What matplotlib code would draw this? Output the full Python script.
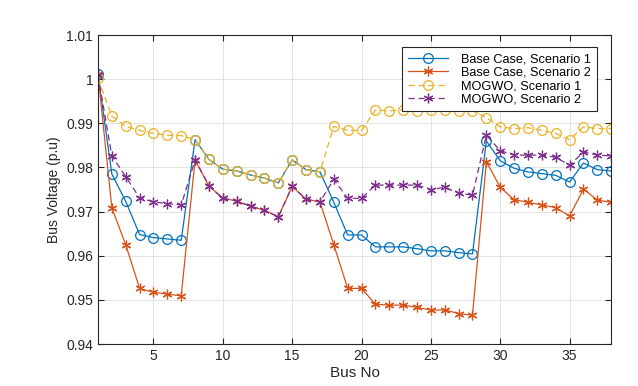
import matplotlib
matplotlib.use('Agg')
import matplotlib.pyplot as plt

plt.rcParams['font.family'] = ['Liberation Sans', 'DejaVu Sans']

bus = list(range(1, 39))

base_s1 = [1.0011, 0.9785, 0.9723, 0.9648, 0.9641, 0.9638, 0.9635, 0.9863, 0.9818, 0.9796,
           0.9792, 0.9783, 0.9776, 0.9765, 0.9817, 0.9795, 0.9790, 0.9721, 0.9647, 0.9647,
           0.9620, 0.9620, 0.9620, 0.9616, 0.9611, 0.9611, 0.9607, 0.9604, 0.9860, 0.9815,
           0.9798, 0.9790, 0.9786, 0.9782, 0.9767, 0.9810, 0.9795, 0.9792]

base_s2 = [1.0011, 0.9708, 0.9625, 0.9526, 0.9517, 0.9513, 0.9509, 0.9817, 0.9758, 0.9730,
           0.9724, 0.9712, 0.9703, 0.9688, 0.9757, 0.9728, 0.9722, 0.9625, 0.9526, 0.9526,
           0.9490, 0.9488, 0.9488, 0.9483, 0.9477, 0.9477, 0.9469, 0.9465, 0.9813, 0.9755,
           0.9727, 0.9721, 0.9715, 0.9709, 0.9690, 0.9751, 0.9726, 0.9721]

mogwo_s1 = [1.0002, 0.9916, 0.9893, 0.9884, 0.9877, 0.9873, 0.9872, 0.9863, 0.9818, 0.9796,
            0.9792, 0.9783, 0.9776, 0.9765, 0.9817, 0.9795, 0.9790, 0.9893, 0.9884, 0.9884,
            0.9930, 0.9928, 0.9931, 0.9928, 0.9930, 0.9930, 0.9928, 0.9928, 0.9913, 0.9892,
            0.9888, 0.9890, 0.9884, 0.9877, 0.9863, 0.9892, 0.9888, 0.9888]

mogwo_s2 = [1.0009, 0.9826, 0.9779, 0.9731, 0.9722, 0.9718, 0.9715, 0.9817, 0.9758, 0.9730,
            0.9724, 0.9712, 0.9703, 0.9688, 0.9757, 0.9728, 0.9722, 0.9773, 0.9730, 0.9730,
            0.9760, 0.9760, 0.9760, 0.9760, 0.9750, 0.9755, 0.9742, 0.9737, 0.9873, 0.9838,
            0.9828, 0.9828, 0.9828, 0.9823, 0.9805, 0.9835, 0.9828, 0.9826]

labels = ['Base Case, Scenario 1', 'Base Case, Scenario 2',
          'MOGWO, Scenario 1', 'MOGWO, Scenario 2']

fig = plt.figure(figsize=(6.38, 3.86), dpi=100)
ax = fig.add_axes([0.1536, 0.1088, 0.8044, 0.8005])

star = (6, 2, 0)
ax.plot(bus, base_s1, '-', color='#0072BD', lw=0.9, marker='o', ms=7,
        mfc='none', mew=0.9, label=labels[0])
ax.plot(bus, base_s2, '-', color='#D95319', lw=0.9, marker=star, ms=7,
        mew=0.9, label=labels[1])
ax.plot(bus, mogwo_s1, '--', color='#EDB120', lw=0.9, marker='o', ms=7,
        mfc='none', mew=0.9, label=labels[2], dashes=(5, 3))
ax.plot(bus, mogwo_s2, '--', color='#7E2F8E', lw=0.9, marker=star, ms=7,
        mew=0.9, label=labels[3], dashes=(5, 3))

ax.set_xlim(1, 38)
ax.set_ylim(0.94, 1.01)
ax.set_xticks([5, 10, 15, 20, 25, 30, 35])
yt = [0.94, 0.95, 0.96, 0.97, 0.98, 0.99, 1.0, 1.01]
ax.set_yticks(yt)
ax.set_yticklabels(['0.94', '0.95', '0.96', '0.97', '0.98', '0.99', '1', '1.01'])
ax.tick_params(direction='in', length=4, labelsize=10, colors='#262626',
               top=True, right=True)
ax.grid(True, color='#e3e3e3', lw=0.7)
ax.set_axisbelow(True)
for s in ax.spines.values():
    s.set_color('#262626')
    s.set_linewidth(0.8)

ax.set_xlabel('Bus No', fontsize=11, color='#262626', labelpad=2)
ax.set_ylabel('Bus Voltage (p.u)', fontsize=10, color='#262626')

leg = ax.legend(loc='upper right', bbox_to_anchor=(0.972, 0.96), fontsize=9.2,
                fancybox=False, framealpha=1, edgecolor='#262626',
                borderpad=0.45, labelspacing=0.12, handlelength=3.2,
                handletextpad=1.0, borderaxespad=0)
leg.get_frame().set_linewidth(0.8)

fig.savefig('out.png', dpi=100)
